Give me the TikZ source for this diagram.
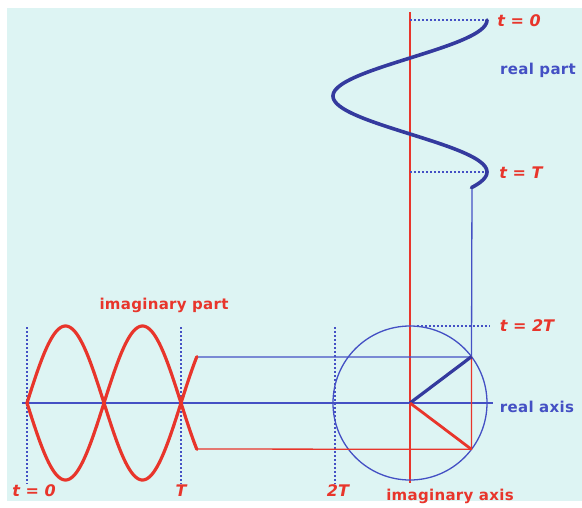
\documentclass[tikz,border=0pt]{standalone}
\usepackage{fontspec}
\setsansfont{DejaVu Sans}
\usetikzlibrary{calc}
\definecolor{bgcyan}{HTML}{DDF4F3}
\definecolor{wavered}{HTML}{E8352B}
\definecolor{waveblue}{HTML}{343A9E}
\definecolor{axisblue}{HTML}{4450C4}

\begin{document}
\begin{tikzpicture}[x=1pt, y=-1pt,
  font=\sffamily\fontsize{15}{18}\selectfont,
  thinred/.style={draw=wavered, line width=1.3pt},
  thinblue/.style={draw=axisblue, line width=1.3pt},
  guide/.style={draw=axisblue, line width=1.3pt, dash pattern=on 2pt off 2pt},
  wave/.style={line width=3.2pt, line join=round, line cap=round},
  tlbl/.style={text=wavered, font=\sffamily\bfseries\itshape\fontsize{16}{19}\selectfont},
  redlbl/.style={text=wavered, font=\sffamily\bfseries\fontsize{15}{18}\selectfont\addfontfeature{LetterSpace=2}},
  bluelbl/.style={text=axisblue, font=\sffamily\bfseries\fontsize{15}{18}\selectfont\addfontfeature{LetterSpace=2}},
]

% frame
\useasboundingbox (0,0) rectangle (582,507);
\fill[bgcyan] (7,8) rectangle (582,501);

% circle and its points
\coordinate (O) at (410,403);
\coordinate (P) at ($(O)+(37:77 and -77)$);
\coordinate (Q) at ($(O)+(-37:77 and -77)$);
\coordinate (top) at (472,188);
\coordinate (kneeU) at (197,357);
\coordinate (kneeL) at (197,449);
\coordinate (T) at (181,403);
\coordinate (start) at (22,403);

% axes
\draw[thinred] (410,12) -- (410,483);
\draw[thinblue] (start) -- (493,403);
\draw[thinblue] (O) circle[radius=77];

% guide lines
\draw[guide] (410,20) -- (488,20);
\draw[guide] (410,172) -- (486,172);
\draw[guide] (417,326) -- (490,326);
\draw[guide] (27,327) -- (27,484);
\draw[guide] (181,327) -- (181,484);
\draw[guide] (335,327) -- (335,484);

% projections
\draw[thinblue] (top) -- (P) -- (kneeU -| P) -- (kneeU);
\draw[thinred] (P) -- (Q) -- (kneeL);

% radii
\draw[waveblue, line width=3.2pt] (O) -- (P);
\draw[wavered, line width=2.8pt] (O) -- (Q);

% real part
\draw[wave, waveblue, line width=3.6pt] plot[domain=0:397, samples=120]
  ({410+77*cos(\x)}, {20+0.42222*\x});

% imaginary part
\draw[wave, wavered] plot[domain=0:397, samples=120]
  ({27+0.42778*\x}, {403-77*sin(\x)});
\draw[wave, wavered] plot[domain=0:397, samples=120]
  ({27+0.42778*\x}, {403+77*sin(\x)});

% labels
\node[tlbl] (t0) at (519,21) {t = 0};
\node[bluelbl] (re) at (538,70) {real part};
\node[tlbl] (tT) at (521,173) {t = T};
\node[tlbl] (t2T) at (527,326) {t = 2T};
\node[bluelbl] (reax) at (537,407) {real axis};
\node[redlbl] (imax) at (450,496) {imaginary axis};
\node[redlbl] (im) at (164,305) {imaginary part};
\node[tlbl] (b0) at (34,491) {t = 0};
\node[tlbl] (bT) at (181,491) {T};
\node[tlbl] (b2T) at (338,491) {2T};

\end{tikzpicture}
\end{document}
